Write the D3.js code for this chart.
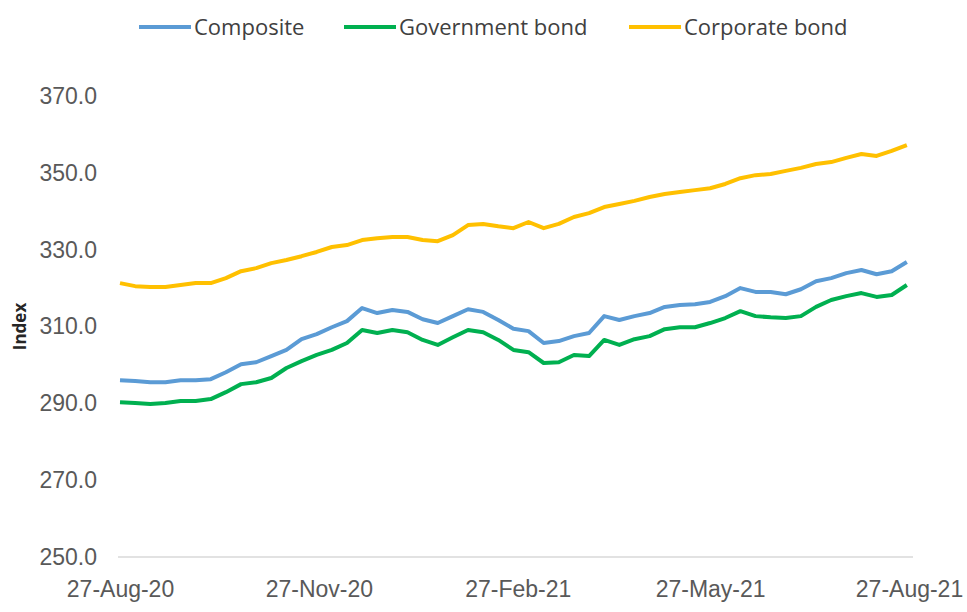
<!DOCTYPE html>
<html>
<head>
<meta charset="utf-8">
<script src="https://cdn.jsdelivr.net/npm/d3@7"></script>
<style>
  body { margin: 0; background: #fff; }
  svg { display: block; font-family: "Open Sans", "Liberation Sans", sans-serif; }
  .tick text { fill: #595959; }
  .legend text { fill: #404040; }
</style>
</head>
<body>
<div id="chart"></div>
<script>
// Weekly observations, starting 27-Aug-20
var startDate  = "2020-08-27",
    weeks      = 53
var composite  = [296.0, 295.8, 295.5, 295.5, 296.0, 296.0, 296.3, 298.1, 300.2, 300.7,
                  302.3, 303.9, 306.7, 308.0, 309.8, 311.4, 314.8, 313.5, 314.3, 313.8,
                  311.9, 310.9, 312.7, 314.5, 313.8, 311.7, 309.4, 308.8, 305.7, 306.2,
                  307.5, 308.3, 312.7, 311.7, 312.7, 313.5, 315.1, 315.6, 315.8, 316.4,
                  317.9, 320.0, 319.0, 319.0, 318.4, 319.7, 321.8, 322.6, 323.9, 324.7,
                  323.6, 324.4, 326.8]
var government = [290.3, 290.1, 289.8, 290.1, 290.6, 290.6, 291.1, 292.9, 295.0, 295.5,
                  296.6, 299.2, 301.0, 302.6, 303.9, 305.7, 309.1, 308.3, 309.1, 308.5,
                  306.5, 305.2, 307.2, 309.1, 308.5, 306.5, 303.9, 303.3, 300.5, 300.7,
                  302.6, 302.3, 306.5, 305.2, 306.7, 307.5, 309.3, 309.8, 309.8, 310.9,
                  312.2, 314.0, 312.7, 312.4, 312.2, 312.7, 315.1, 316.9, 317.9, 318.7,
                  317.7, 318.2, 320.8]
var corporate  = [321.3, 320.5, 320.3, 320.3, 320.8, 321.3, 321.3, 322.6, 324.4, 325.2,
                  326.5, 327.3, 328.3, 329.4, 330.7, 331.2, 332.5, 333.0, 333.3, 333.3,
                  332.5, 332.2, 333.8, 336.4, 336.7, 336.1, 335.6, 337.2, 335.6, 336.7,
                  338.5, 339.5, 341.1, 341.9, 342.7, 343.7, 344.5, 345.0, 345.5, 346.0,
                  347.1, 348.6, 349.4, 349.7, 350.5, 351.3, 352.3, 352.8, 353.9, 354.9,
                  354.4, 355.7, 357.2]
var seriesNames = ["Composite", "Government bond", "Corporate bond"]
var xTickDates  = ["2020-08-27", "2020-11-27", "2021-02-27", "2021-05-27", "2021-08-27"]
var yTicks      = [250, 270, 290, 310, 330, 350, 370]

var W = 967, H = 612,
    margin  = { top: 96, right: 55, bottom: 55, left: 120 },
    colours = ["#5b9bd5", "#00b050", "#ffc000"]

var parse = d3.utcParse("%Y-%m-%d"),
    start = parse(startDate),
    dates = d3.range(weeks).map(function (i) { return d3.utcDay.offset(start, 7 * i) })

var series = [composite, government, corporate].map(function (vals, i) {
  return {
    name   : seriesNames[i],
    colour : colours[i],
    data   : vals.map(function (v, j) { return { date: dates[j], val: v } })
  }
})

var svg = d3.select("#chart").append("svg")
            .attr("width", W)
            .attr("height", H)

// Scales
var xScale = d3.scaleUtc()
               .domain([parse(xTickDates[0]), parse(xTickDates[xTickDates.length - 1])])
               .range([margin.left, W - margin.right - 3])
var yScale = d3.scaleLinear()
               .domain([250, 370])
               .range([H - margin.bottom, margin.top])

// X axis (baseline only, no tick marks)
var xAxis = d3.axisBottom(xScale)
              .tickValues(xTickDates.map(parse))
              .tickFormat(d3.utcFormat("%d-%b-%y"))
              .tickSize(0)
              .tickPadding(24)
var gx = svg.append("g")
            .attr("class", "axis axis-x")
            .attr("transform", "translate(0," + yScale(250) + ")")
            .call(xAxis)
gx.select(".domain")
  .attr("d", "M" + (xScale.range()[0] - 2) + ",0H" + (xScale.range()[1] + 4))
  .attr("stroke", "#d9d9d9")
  .attr("stroke-width", 1.5)
gx.selectAll(".tick text").attr("font-size", 23)

// Y axis (labels only)
var yAxis = d3.axisLeft(yScale)
              .tickValues(yTicks)
              .tickFormat(d3.format(".1f"))
              .tickSize(0)
              .tickPadding(23)
var gy = svg.append("g")
            .attr("class", "axis axis-y")
            .attr("transform", "translate(" + margin.left + ",0)")
            .call(yAxis)
gy.select(".domain").remove()
gy.selectAll(".tick text").attr("font-size", 23)

// Axis title
svg.append("text")
   .attr("transform", "translate(26," + ((yScale(250) + yScale(370)) / 2) + ") rotate(-90)")
   .attr("text-anchor", "middle")
   .attr("font-size", 17)
   .attr("font-weight", "bold")
   .attr("fill", "#262626")
   .text("Index")

// Lines
var line = d3.line()
             .x(function (d) { return xScale(d.date) })
             .y(function (d) { return yScale(d.val) })

series.forEach(function (s) {
  svg.append("path")
     .datum(s.data)
     .attr("class", "line")
     .attr("d", line)
     .attr("fill", "none")
     .attr("stroke", s.colour)
     .attr("stroke-width", 4)
     .attr("stroke-linejoin", "round")
})

// Legend
var legendX = [139, 344, 629]
var legend = svg.append("g").attr("class", "legend")
series.forEach(function (s, i) {
  var g = legend.append("g").attr("transform", "translate(" + legendX[i] + ",27)")
  g.append("line")
   .attr("x1", 0).attr("x2", 52)
   .attr("stroke", s.colour)
   .attr("stroke-width", 4)
  g.append("text")
   .attr("x", 55)
   .attr("dy", "0.35em")
   .attr("font-size", 22)
   .text(s.name)
})
</script>
</body>
</html>
